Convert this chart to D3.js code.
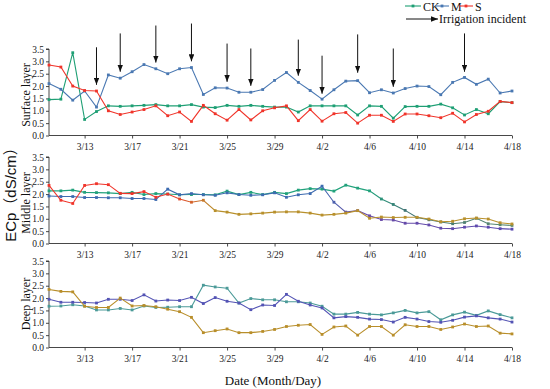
<!DOCTYPE html>
<html><head><meta charset="utf-8">
<script src="https://cdn.jsdelivr.net/npm/d3@7"></script>
<style>body{margin:0;background:#fff}svg{display:block}</style>
</head><body>
<svg id="c" width="550" height="389"></svg>
<script>
// ---------- DATA ----------
const dates = ["3/10","3/11","3/12","3/13","3/14","3/15","3/16","3/17","3/18","3/19",
  "3/20","3/21","3/22","3/23","3/24","3/25","3/26","3/27","3/28","3/29",
  "3/30","3/31","4/1","4/2","4/3","4/4","4/5","4/6","4/7","4/8",
  "4/9","4/10","4/11","4/12","4/13","4/14","4/15","4/16","4/17","4/18"];
const xTickLabels = ["3/13","3/17","3/21","3/25","3/29","4/2","4/6","4/10","4/14","4/18"];
const yTickValues = [0,0.5,1.0,1.5,2.0,2.5,3.0,3.5];
const seriesNames = ["CK","M","S"];

const surfaceCK = [1.45,1.47,3.35,0.65,0.97,1.2,1.18,1.2,1.22,1.25,1.2,1.2,1.25,1.15,1.13,1.22,1.18,1.22,1.18,1.15,
  1.15,0.95,1.2,1.2,1.2,1.2,0.83,1.2,1.18,0.7,1.17,1.18,1.18,1.27,1.12,0.83,1.05,0.88,1.37,1.33];
const surfaceM = [2.1,1.87,1.43,1.8,1.15,2.45,2.32,2.58,2.87,2.7,2.5,2.7,2.75,1.66,1.93,1.92,1.75,1.75,1.86,2.23,
  2.55,2.15,1.82,1.47,1.85,2.2,2.22,1.73,1.85,1.72,1.9,2.0,1.98,1.65,2.15,2.35,2.07,2.28,1.72,1.8];
const surfaceS = [2.85,2.77,2.0,1.82,1.8,1.0,0.85,0.95,1.05,1.2,0.8,0.95,0.57,1.22,0.88,0.62,1.05,0.63,1.0,1.12,
  1.2,0.6,1.05,0.58,0.88,0.93,0.5,0.82,0.82,0.57,0.87,0.87,0.8,0.72,0.9,0.55,0.85,0.98,1.38,1.33];

const middleCK = [2.13,2.13,2.16,2.07,2.06,2.05,2.02,2.07,1.98,2.02,2.0,1.97,1.98,1.98,1.97,2.12,1.98,2.07,1.98,2.07,
  2.02,2.16,2.22,2.2,2.12,2.36,2.24,2.13,1.8,1.58,1.34,1.05,0.96,0.87,0.8,0.85,1.02,0.8,0.76,0.73];
const middleM = [1.92,1.9,1.9,1.86,1.86,1.85,1.85,1.82,1.82,1.78,2.2,1.97,2.02,1.97,1.95,2.05,1.98,1.95,1.97,2.05,
  1.87,1.97,2.02,2.32,1.67,1.27,1.33,1.12,0.97,0.95,0.82,0.82,0.75,0.62,0.6,0.66,0.71,0.66,0.6,0.58];
const middleS = [2.35,1.75,1.62,2.35,2.42,2.38,2.03,2.02,2.1,1.87,2.0,1.8,1.67,1.75,1.33,1.27,1.18,1.2,1.23,1.27,
  1.28,1.28,1.23,1.15,1.18,1.23,1.33,1.02,1.07,1.05,1.06,1.06,0.99,0.88,0.9,1.0,1.03,0.99,0.84,0.79];

const deepCK = [1.67,1.68,1.73,1.68,1.52,1.52,1.58,1.52,1.68,1.62,1.63,1.65,1.65,2.52,2.45,2.4,1.8,1.98,1.93,1.93,
  1.85,1.85,1.8,1.67,1.35,1.35,1.42,1.35,1.32,1.4,1.5,1.4,1.45,1.12,1.32,1.43,1.3,1.48,1.33,1.2];
const deepM = [1.95,1.83,1.83,1.82,1.8,1.95,1.95,1.9,2.13,1.88,1.92,1.9,2.03,1.78,2.02,1.87,1.8,1.53,1.72,1.7,
  2.15,1.87,1.72,1.6,1.2,1.25,1.22,1.15,1.13,1.03,1.22,1.15,1.05,1.02,1.1,1.23,1.28,1.2,1.15,1.03];
const deepS = [2.35,2.27,2.25,1.67,1.62,1.62,2.0,1.68,1.7,1.65,1.55,1.45,1.22,0.6,0.68,0.75,0.6,0.6,0.65,0.73,
  0.85,0.9,0.93,0.53,0.83,0.87,0.5,0.85,0.85,0.5,0.92,0.85,0.85,0.73,0.83,0.95,0.85,0.87,0.58,0.55];

const arrowDates = ["3/14","3/16","3/19","3/22","3/25","3/27","3/31","4/2","4/5","4/8","4/14"];
const arrowTop   = [3.57,4.13,4.45,4.53,3.72,3.52,3.88,3.23,4.09,3.52,4.13];
const arrowTip   = [2.05,2.58,2.95,3.0,2.17,2.01,2.42,1.69,2.54,1.97,2.58];

const panelNames = ["Surface layer","Middle layer","Deep layer"];
const legendArrowLabel = "Irrigation incident";
const yTitle = "ECp\uFF08dS/cm\uFF09";
const xTitle = "Date (Month/Day)";

// ---------- STYLE / LAYOUT ----------
const FONT = "'Liberation Serif','Times New Roman',serif";
const xLeft = 49, xRight = 512;
const panelLayout = [
  {top: 49, bottom: 135.5, labelY: 95},
  {top: 157, bottom: 243.5, labelY: 203},
  {top: 261, bottom: 347.5, labelY: 304}
];
const panelColors = [
  {CK: [[0,"#1e9f74"],[39,"#1e9f74"]], M: [[0,"#4a78b2"],[39,"#4a78b2"]], S: [[0,"#f0342a"],[39,"#f0342a"]]},
  {CK: [[0,"#22a27c"],[27,"#22a27c"],[30,"#3f7474"],[39,"#5a8a70"]],
   M: [[0,"#3d6bb0"],[23,"#3d6bb0"],[26,"#6a4aa6"],[39,"#5a4ab0"]],
   S: [[0,"#f0342a"],[10,"#f0342a"],[14,"#b8902c"],[39,"#b8902c"]]},
  {CK: [[0,"#4b9a98"],[39,"#4b9a98"]], M: [[0,"#5353b4"],[39,"#5353b4"]], S: [[0,"#b88e2a"],[39,"#b88e2a"]]}
];
const legendColors = {CK: "#1e9f74", M: "#4a78b2", S: "#f0342a"};

const panelData = [
  {CK: surfaceCK, M: surfaceM, S: surfaceS},
  {CK: middleCK, M: middleM, S: middleS},
  {CK: deepCK, M: deepM, S: deepS}
];

// ---------- DRAW ----------
const svg = d3.select("#c");
const defs = svg.append("defs");
defs.append("marker").attr("id","ah").attr("viewBox","0 0 10 10").attr("refX",10).attr("refY",5)
  .attr("markerWidth",7).attr("markerHeight",5.5).attr("markerUnits","userSpaceOnUse").attr("orient","auto")
  .attr("preserveAspectRatio","none")
  .append("path").attr("d","M0,0L10,5L0,10Z").attr("fill","#111");

const x = d3.scalePoint().domain(dates).range([xLeft, xRight]);

panelLayout.forEach((pl, p) => {
  const y = d3.scaleLinear().domain([0,3.5]).range([pl.bottom, pl.top]);
  const g = svg.append("g");

  const ax = g.append("g").attr("transform",`translate(${xLeft},0)`)
    .call(d3.axisLeft(y).tickValues(yTickValues).tickFormat(d3.format(".1f")).tickSize(3).tickPadding(2));
  const bx = g.append("g").attr("transform",`translate(0,${pl.bottom})`)
    .call(d3.axisBottom(x).tickValues(xTickLabels).tickSize(3).tickPadding(5).tickSizeOuter(0));
  [ax,bx].forEach(a => {
    a.selectAll("text").attr("font-family",FONT).attr("font-size",9.5).attr("fill","#222");
    a.selectAll("line,path").attr("stroke","#333").attr("stroke-width",0.9);
  });
  ax.select(".domain").attr("d",`M-3,${pl.top}H0V${pl.bottom}`);
  bx.select(".domain").attr("d",`M${xLeft},0H${xRight}`);

  svg.append("text").attr("transform",`translate(30,${pl.labelY}) rotate(-90)`)
    .attr("text-anchor","middle").attr("font-family",FONT).attr("font-size",12).attr("fill","#111")
    .text(panelNames[p]);

  seriesNames.forEach(name => {
    const stops = panelColors[p][name];
    const cScale = d3.scaleLinear().domain(stops.map(s=>s[0])).range(stops.map(s=>s[1])).clamp(true);
    const gid = `g${p}${name}`;
    const grad = defs.append("linearGradient").attr("id",gid).attr("gradientUnits","userSpaceOnUse")
      .attr("x1",xLeft).attr("x2",xRight).attr("y1",0).attr("y2",0);
    stops.forEach(s => grad.append("stop").attr("offset",(s[0]/(dates.length-1))).attr("stop-color",s[1]));
    const vals = panelData[p][name];
    const line = d3.line().x((d,i)=>x(dates[i])).y(d=>y(d));
    g.append("path").datum(vals).attr("d",line).attr("fill","none")
      .attr("stroke",`url(#${gid})`).attr("stroke-width",1.1);
    g.selectAll(null).data(vals).enter().append("rect")
      .attr("x",(d,i)=>x(dates[i])-1.4).attr("y",d=>y(d)-1.4).attr("width",2.8).attr("height",2.8)
      .attr("fill",(d,i)=>cScale(i));
  });

  if (p === 0) {
    arrowDates.forEach((d,k) => {
      g.append("line").attr("x1",x(d)).attr("x2",x(d)).attr("y1",y(arrowTop[k])).attr("y2",y(arrowTip[k]))
        .attr("stroke","#111").attr("stroke-width",1).attr("marker-end","url(#ah)");
    });
  }
});

svg.append("text").attr("transform","translate(16,191) rotate(-90)").attr("text-anchor","middle")
  .attr("font-family","'Liberation Sans','Noto Sans CJK SC',sans-serif").attr("font-size",15).attr("fill","#111")
  .text(yTitle);
svg.append("text").attr("x",273).attr("y",385).attr("text-anchor","middle")
  .attr("font-family",FONT).attr("font-size",13).attr("fill","#111").text(xTitle);

const lg = svg.append("g");
const legendX = [405,435,459];
seriesNames.forEach((n,k) => {
  const x0 = legendX[k], w = k===0?16:14;
  lg.append("line").attr("x1",x0).attr("x2",x0+w).attr("y1",6).attr("y2",6).attr("stroke",legendColors[n]).attr("stroke-width",1.1);
  lg.append("rect").attr("x",x0+w/2-1.4).attr("y",4.6).attr("width",2.8).attr("height",2.8).attr("fill",legendColors[n]);
  lg.append("text").attr("x",x0+w+2).attr("y",10.5).attr("font-family",FONT).attr("font-size",12).attr("fill","#111").text(n);
});
lg.append("line").attr("x1",406).attr("x2",438).attr("y1",19).attr("y2",19).attr("stroke","#111")
  .attr("stroke-width",1).attr("marker-end","url(#ah)");
lg.append("text").attr("x",439).attr("y",23).attr("font-family",FONT).attr("font-size",12).attr("fill","#111").text(legendArrowLabel);
</script>
</body></html>
